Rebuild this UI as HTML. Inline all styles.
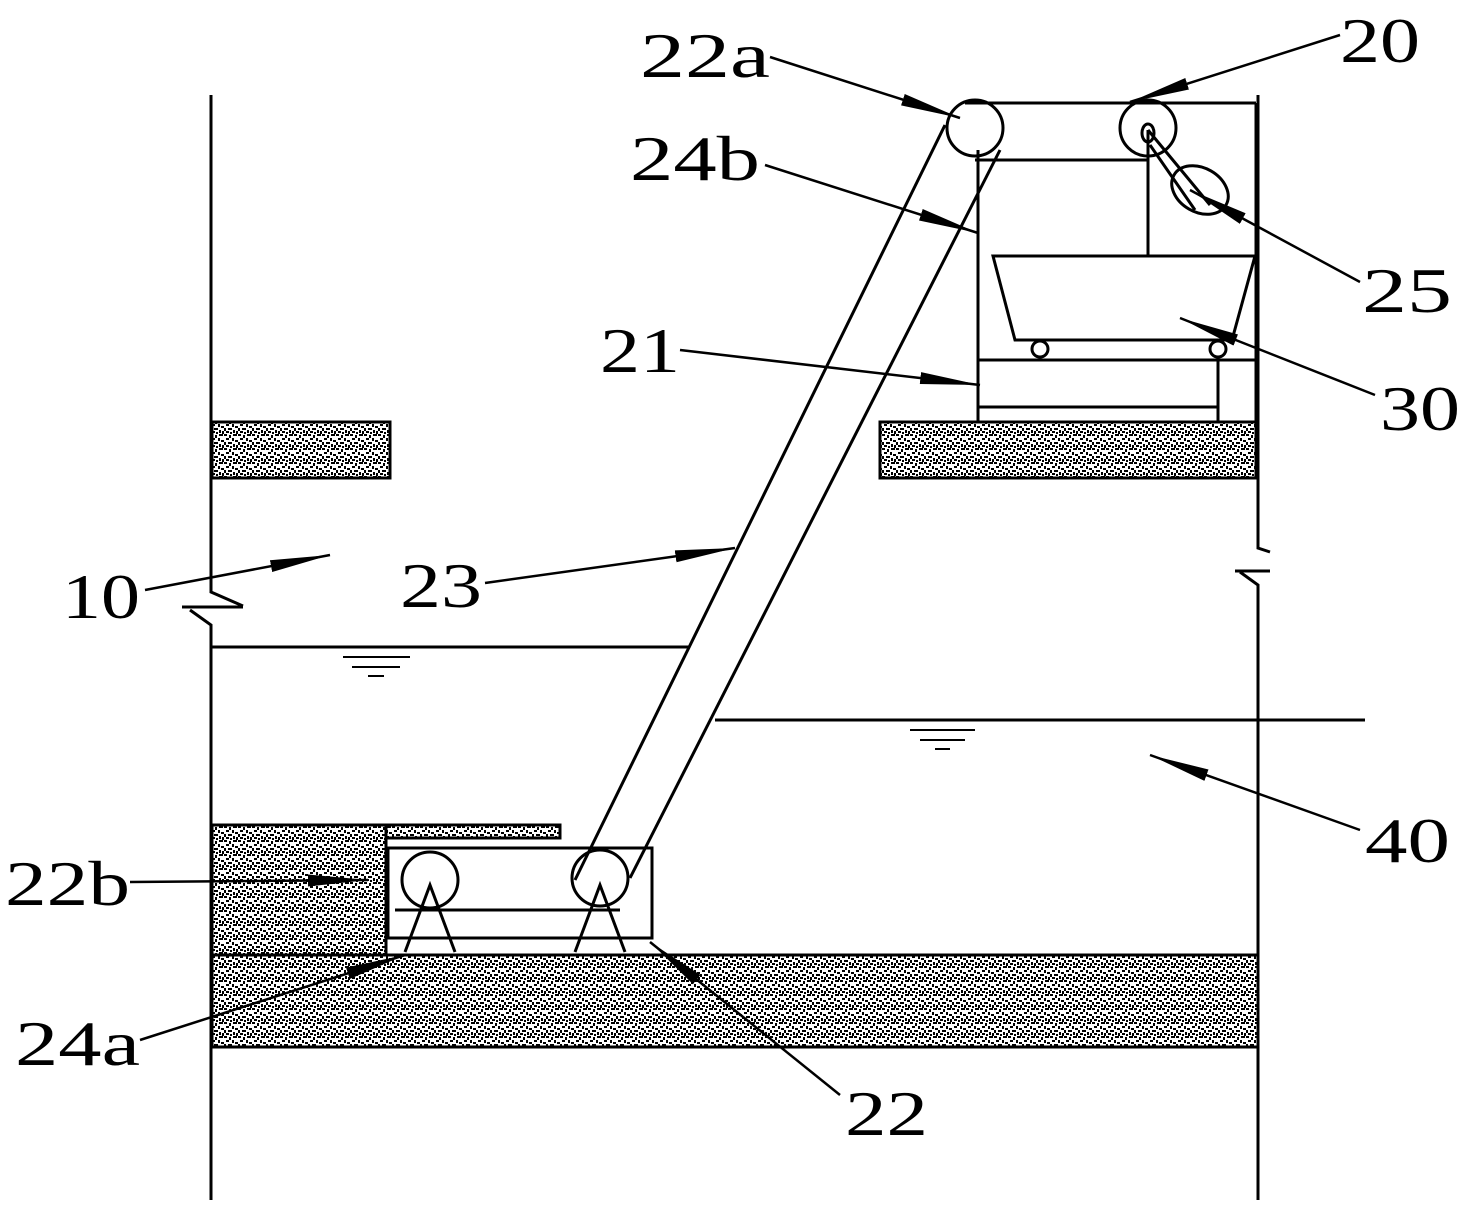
<!DOCTYPE html>
<html><head><meta charset="utf-8"><style>
html,body{margin:0;padding:0;background:#fff;}
svg{display:block}
text{font-family:"Liberation Serif",serif;font-size:64px;fill:#000}
</style></head><body>
<svg width="1471" height="1215" viewBox="0 0 1471 1215" xmlns="http://www.w3.org/2000/svg">
<defs>
<pattern id="sp" width="14" height="14" patternUnits="userSpaceOnUse">
<rect width="14" height="14" fill="#fff"/>
<rect x="0" y="0" width="3" height="2" fill="#000"/>
<rect x="5" y="1" width="2" height="3" fill="#000"/>
<rect x="9" y="0" width="4" height="2" fill="#000"/>
<rect x="2" y="4" width="3" height="2" fill="#000"/>
<rect x="8" y="4" width="2" height="3" fill="#000"/>
<rect x="11" y="6" width="3" height="2" fill="#000"/>
<rect x="0" y="8" width="2" height="3" fill="#000"/>
<rect x="4" y="8" width="4" height="2" fill="#000"/>
<rect x="9" y="10" width="2" height="3" fill="#000"/>
<rect x="2" y="11" width="3" height="2" fill="#000"/>
<rect x="12" y="11" width="2" height="3" fill="#000"/>
<rect x="6" y="12" width="2" height="2" fill="#000"/>
</pattern>
<marker id="ah" viewBox="0 0 60 14" refX="60" refY="7" markerWidth="60" markerHeight="14" markerUnits="userSpaceOnUse" orient="auto">
<path d="M0,1 L60,7 L0,13 Z" fill="#000"/>
</marker>
</defs>
<g stroke="#000" stroke-width="3" fill="none">
<path d="M211,95 V592 L243,606 M182,607 H243 M190,610 L211,625 V1200"/>
<path d="M1258,95 V548 L1270,552 M1235,571 H1270 M1240,572 L1258,585 V1200"/>
</g>
<g fill="url(#sp)" stroke="#000" stroke-width="3">
<rect x="212" y="422" width="178" height="56"/>
<rect x="880" y="422" width="376" height="56"/>
<rect x="212" y="955" width="1046" height="92"/>
<rect x="212" y="825" width="174" height="130"/>
<rect x="386" y="825" width="174" height="13"/>
</g>
<g stroke="#000" stroke-width="3" fill="none">
<rect x="388" y="848" width="264" height="90" fill="#fff"/>
<line x1="395" y1="910" x2="620" y2="910"/>
<circle cx="430" cy="880" r="28" fill="#fff"/>
<circle cx="600" cy="878" r="28" fill="#fff"/>
<path d="M405,952 L430,885 L455,952 M575,952 L600,885 L625,952"/>
<line x1="945" y1="125" x2="575" y2="880"/>
<line x1="1000" y1="150" x2="630" y2="878"/>
<line x1="212" y1="647" x2="690" y2="647"/>
<line x1="715" y1="720" x2="1365" y2="720"/>
<path d="M343,657 H410 M352,667 H400 M368,676 H384" stroke-width="2"/>
<path d="M910,730 H975 M920,740 H965 M935,749 H950" stroke-width="2"/>
<line x1="965" y1="103" x2="1256" y2="103"/>
<line x1="1256" y1="103" x2="1256" y2="422"/>
<line x1="975" y1="160" x2="1148" y2="160"/>
<line x1="978" y1="150" x2="978" y2="422"/>
<line x1="1148" y1="130" x2="1148" y2="255"/>
<circle cx="975" cy="128" r="28" fill="none"/>
<circle cx="1148" cy="128" r="28"/>
<ellipse cx="1148" cy="133" rx="6" ry="9"/>
<path d="M1148,130 L1210,205 M1150,145 L1195,210"/>
<ellipse cx="1200" cy="190" rx="30" ry="22" transform="rotate(30 1200 190)"/>
<path d="M993,256 H1255 L1232,340 H1015 Z" fill="#fff"/>
<circle cx="1040" cy="349" r="8"/>
<circle cx="1218" cy="349" r="8"/>
<line x1="978" y1="360" x2="1258" y2="360"/>
<line x1="978" y1="407" x2="1218" y2="407"/>
<line x1="1218" y1="357" x2="1218" y2="422"/>
</g>
<g stroke="#000" stroke-width="2.5" fill="none" marker-end="url(#ah)">
<line x1="770" y1="57" x2="960" y2="118"/>
<line x1="1340" y1="35" x2="1130" y2="102"/>
<line x1="765" y1="165" x2="978" y2="233"/>
<line x1="1360" y1="282" x2="1190" y2="190"/>
<line x1="680" y1="350" x2="980" y2="385"/>
<line x1="1375" y1="395" x2="1180" y2="318"/>
<line x1="145" y1="590" x2="330" y2="555"/>
<line x1="485" y1="583" x2="735" y2="548"/>
<line x1="1360" y1="830" x2="1150" y2="755"/>
<line x1="130" y1="882" x2="368" y2="880"/>
<line x1="140" y1="1040" x2="405" y2="955"/>
<line x1="840" y1="1095" x2="650" y2="942"/>
</g>
<text x="640" y="77" textLength="130" lengthAdjust="spacingAndGlyphs">22a</text>
<text x="1340" y="62" textLength="80" lengthAdjust="spacingAndGlyphs">20</text>
<text x="630" y="180" textLength="130" lengthAdjust="spacingAndGlyphs">24b</text>
<text x="1362" y="312" textLength="90" lengthAdjust="spacingAndGlyphs">25</text>
<text x="600" y="372" textLength="80" lengthAdjust="spacingAndGlyphs">21</text>
<text x="1380" y="430" textLength="80" lengthAdjust="spacingAndGlyphs">30</text>
<text x="62" y="618" textLength="78" lengthAdjust="spacingAndGlyphs">10</text>
<text x="400" y="607" textLength="82" lengthAdjust="spacingAndGlyphs">23</text>
<text x="1365" y="862" textLength="85" lengthAdjust="spacingAndGlyphs">40</text>
<text x="5" y="905" textLength="125" lengthAdjust="spacingAndGlyphs">22b</text>
<text x="15" y="1065" textLength="125" lengthAdjust="spacingAndGlyphs">24a</text>
<text x="845" y="1135" textLength="83" lengthAdjust="spacingAndGlyphs">22</text>
</svg>
</body></html>
